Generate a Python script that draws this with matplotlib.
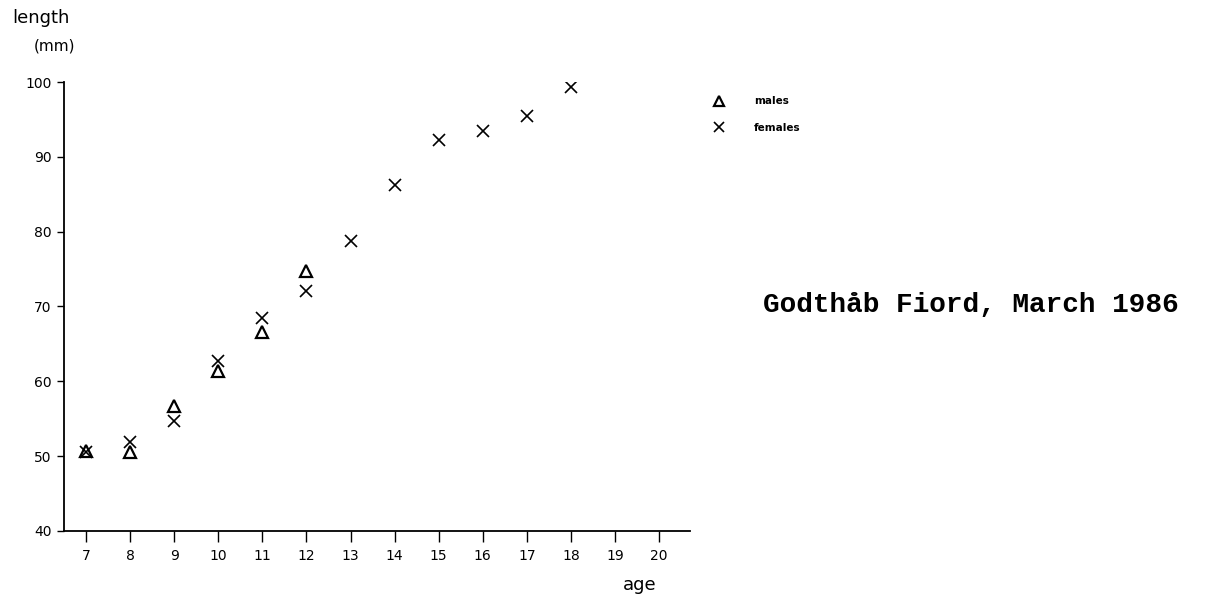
import numpy as np
import matplotlib
matplotlib.use('Agg')
import matplotlib.pyplot as plt

# --- data ---
ages_m = [7, 8, 9, 10, 11, 12]
len_m = [50.7, 50.5, 56.7, 61.4, 66.6, 74.8]

ages_f = [7, 8, 9, 10, 11, 12, 13, 14, 15, 16, 17, 18]
len_f = [50.6, 51.9, 54.7, 62.7, 68.4, 72.1, 78.7, 86.2, 92.3, 93.4, 95.4, 99.3]

xticks = np.arange(7, 21)
yticks = np.arange(40, 101, 10)

fig = plt.figure(figsize=(12.13, 6.03), dpi=100)
ax = fig.add_axes([64 / 1213, 72 / 603, 626 / 1213, 449 / 603])

ax.plot(ages_m, len_m, ls='none', marker='^', ms=8, mfc='none',
        mec='black', mew=1.6, label='males')
ax.plot(ages_f, len_f, ls='none', marker='x', ms=8, color='black',
        mew=1.2, label='females')

ax.set_xlim(6.5, 20.7)
ax.set_ylim(40, 100)
ax.set_xticks(xticks)
ax.set_yticks(yticks)
ax.tick_params(axis='x', direction='out', length=8, width=1, pad=5,
               labelsize=10)
ax.tick_params(axis='y', direction='out', length=5, width=1, pad=4,
               labelsize=10)
for s in ['top', 'right']:
    ax.spines[s].set_visible(False)
for s in ['left', 'bottom']:
    ax.spines[s].set_linewidth(1.3)

# axis titles
fig.text(12 / 1213, 1 - 18 / 603, 'length', fontsize=13, ha='left',
         va='center')
fig.text(34 / 1213, 1 - 46 / 603, '(mm)', fontsize=11, ha='left',
         va='center')
fig.text(640 / 1213, 1 - 585 / 603, 'age', fontsize=13, ha='center',
         va='center')

fig.legend(loc='upper left', bbox_to_anchor=(704 / 1213, 1 - 87 / 603),
           frameon=False, prop={'weight': 'bold', 'size': 7.5},
           handlelength=1.0, handletextpad=2.9, labelspacing=1.6,
           markerscale=0.85)

fig.text(763 / 1213, 1 - 305 / 603, 'Godthåb Fiord, March 1986',
         fontsize=20, family='Liberation Mono', weight='bold',
         ha='left', va='center')

fig.savefig('out.png', dpi=100)
